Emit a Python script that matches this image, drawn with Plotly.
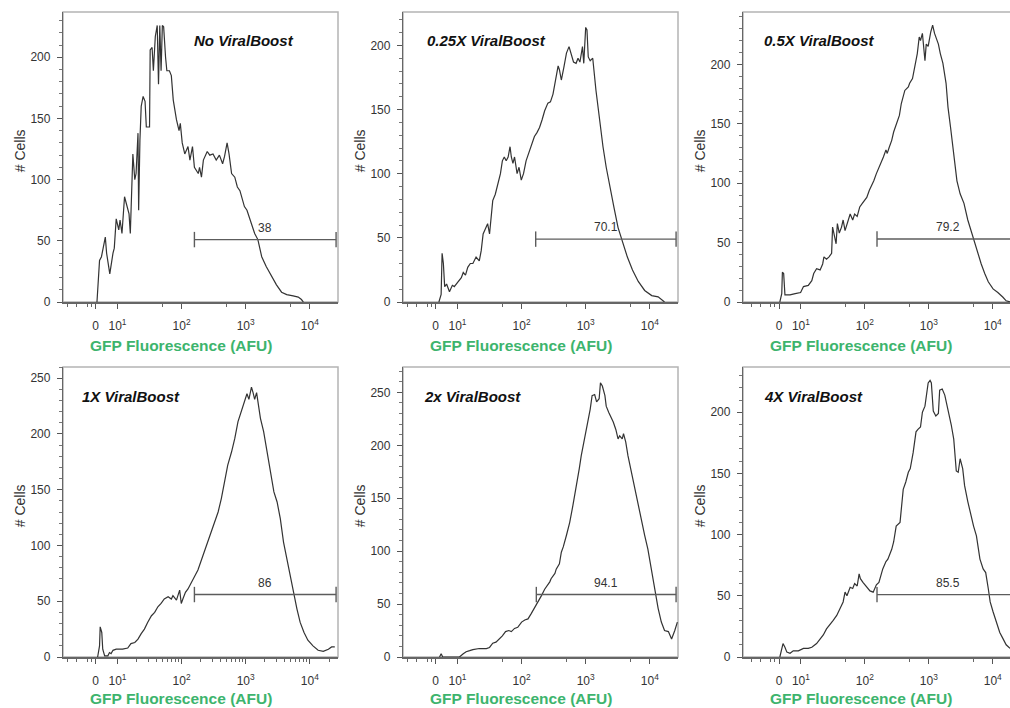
import math
import plotly.graph_objects as go

W, H = 1010, 708
FONT = "Arial, 'Liberation Sans', sans-serif"

panel_titles = ["No ViralBoost", "0.25X ViralBoost", "0.5X ViralBoost",
                "1X ViralBoost", "2x ViralBoost", "4X ViralBoost"]

# x values are log10(GFP fluorescence, AFU); y values are # cells
no_vb_x = [0.68,0.72,0.75,0.81,0.83,0.88,0.93,0.95,0.98,1.02,1.04,1.07,1.11,1.15,1.18,1.20,1.23,1.24,1.27,1.29,
           1.32,1.33,1.35,1.37,1.40,1.43,1.45,1.50,1.51,1.54,1.56,1.59,1.62,1.64,1.66,1.68,1.70,1.72,1.75,1.77,
           1.81,1.84,1.87,1.92,1.96,1.98,2.01,2.05,2.10,2.13,2.17,2.20,2.26,2.28,2.31,2.34,2.40,2.44,2.49,2.54,
           2.59,2.64,2.67,2.71,2.74,2.78,2.83,2.87,2.91,2.95,2.98,3.02,3.09,3.14,3.19,3.25,3.32,3.40,3.48,3.56,
           3.64,3.74,3.82,3.87,3.90]
no_vb_y = [0,34,37,53,40,23,40,44,68,59,67,56,86,78,72,56,98,121,100,105,
           138,75,132,160,168,164,143,143,206,208,189,217,226,178,226,189,226,225,200,189,
           189,185,165,149,140,146,130,121,127,116,127,110,105,110,102,116,123,120,121,116,
           120,113,119,130,121,105,102,94,91,83,78,75,64,56,51,37,29,21,14,8,
           6,5,4,2,0]

vb025_x = [0.71,0.745,0.76,0.78,0.80,0.83,0.875,0.92,0.95,1.005,1.06,1.09,1.125,1.16,1.20,1.24,1.29,1.34,1.37,1.40,
           1.45,1.47,1.50,1.53,1.55,1.59,1.63,1.67,1.70,1.73,1.76,1.79,1.82,1.84,1.865,1.89,1.93,1.96,1.995,2.03,
           2.07,2.115,2.15,2.20,2.24,2.28,2.32,2.36,2.41,2.45,2.49,2.53,2.57,2.59,2.62,2.66,2.70,2.74,2.78,2.81,
           2.85,2.88,2.91,2.95,2.97,3.00,3.02,3.04,3.07,3.11,3.16,3.19,3.23,3.27,3.32,3.375,3.44,3.505,3.57,3.65,
           3.73,3.82,3.92,4.03,4.13,4.20,4.23]
vb025_y = [0,6,38,30,12,14,8,13,12,16,19,23,21,27,30,30,35,32,40,53,
           58,61,53,69,79,84,92,100,110,113,110,113,121,113,108,113,100,105,95,100,
           110,116,121,129,132,136,142,149,155,156,162,173,184,181,173,183,194,199,192,187,
           186,190,187,199,186,214,212,191,188,190,165,152,136,121,105,90,74,58,48,35,
           25,16,9,5,4,1,0]

vb05_x = [0.67,0.70,0.71,0.73,0.75,0.83,0.91,0.995,1.04,1.115,1.17,1.20,1.245,1.30,1.34,1.36,1.40,1.44,1.48,1.495,
          1.515,1.55,1.57,1.60,1.635,1.66,1.69,1.72,1.77,1.81,1.84,1.88,1.92,1.96,2.00,2.03,2.07,2.10,2.14,2.18,
          2.23,2.29,2.33,2.35,2.38,2.42,2.45,2.49,2.54,2.57,2.625,2.68,2.70,2.745,2.78,2.82,2.85,2.87,2.90,2.92,
          2.94,2.96,2.99,3.03,3.06,3.09,3.15,3.18,3.22,3.27,3.30,3.34,3.39,3.44,3.49,3.55,3.61,3.67,3.72,3.77,
          3.82,3.875,3.93,4.005,4.08,4.16,4.21,4.28]
vb05_y = [0,7,25,24,6,6,7,8,13,14,18,24,28,27,32,38,36,38,41,63,
          58,49,66,58,63,69,60,66,74,69,74,72,80,83,86,88,94,97,102,108,
          114,122,128,125,130,136,143,150,157,167,178,181,184,188,198,209,223,220,226,212,
          203,217,215,227,233,226,217,209,201,184,164,147,125,102,91,83,69,58,49,41,
          32,24,17,11,8,4,1,0]

vb1_x = [0.69,0.72,0.73,0.755,0.77,0.80,0.85,0.875,0.90,0.93,0.98,1.08,1.16,1.21,1.27,1.32,1.37,1.42,1.47,1.53,
         1.58,1.63,1.68,1.73,1.79,1.84,1.865,1.92,1.97,1.995,2.02,2.06,2.10,2.15,2.20,2.255,2.31,2.36,2.41,2.46,
         2.52,2.57,2.62,2.67,2.72,2.78,2.83,2.88,2.93,2.98,3.02,3.05,3.09,3.115,3.14,3.17,3.19,3.23,3.28,3.33,
         3.385,3.44,3.49,3.54,3.59,3.65,3.70,3.75,3.80,3.85,3.91,3.97,4.05,4.13,4.21,4.29,4.34,4.39]
vb1_y = [0,10,27,22,7,1,1,4,3,6,7,7,8,12,13,16,21,25,31,37,
         40,45,48,52,54,52,55,51,60,48,52,58,61,67,72,78,87,94,103,112,
         121,130,142,157,172,184,196,211,220,231,236,231,242,237,231,237,228,214,202,184,
         166,148,139,124,103,85,70,55,43,31,22,15,10,6,5,7,9,9]

vb2_x = [0.72,0.745,0.77,1.03,1.09,1.135,1.19,1.24,1.34,1.45,1.50,1.55,1.60,1.65,1.70,1.75,1.80,1.84,1.89,1.94,
         2.00,2.05,2.10,2.15,2.20,2.255,2.31,2.36,2.41,2.44,2.46,2.52,2.54,2.57,2.59,2.62,2.65,2.70,2.75,2.80,
         2.85,2.90,2.93,2.98,3.04,3.07,3.10,3.14,3.17,3.21,3.23,3.26,3.30,3.32,3.36,3.40,3.43,3.47,3.505,3.53,
         3.57,3.59,3.625,3.66,3.71,3.77,3.82,3.87,3.92,3.97,4.03,4.08,4.13,4.18,4.23,4.29,4.34,4.39,4.43]
vb2_y = [0,3,0,0,3,5,6,7,8,8,9,13,14,17,20,24,25,24,27,28,
         33,35,36,41,46,52,58,64,68,71,74,79,83,86,88,99,104,115,127,143,
         159,178,190,206,222,234,247,248,241,244,259,256,247,237,231,226,222,215,206,209,
         206,211,203,190,175,159,143,127,115,102,80,64,46,33,25,24,17,25,33]

vb4_x = [0.67,0.70,0.72,0.75,0.78,0.83,0.88,0.96,1.04,1.115,1.17,1.245,1.30,1.35,1.40,1.45,1.505,1.56,1.61,1.66,
         1.69,1.72,1.77,1.81,1.84,1.88,1.91,1.93,1.97,2.03,2.08,2.13,2.18,2.22,2.28,2.33,2.36,2.42,2.45,2.49,
         2.55,2.60,2.64,2.68,2.71,2.755,2.80,2.83,2.87,2.90,2.94,2.99,3.02,3.04,3.07,3.11,3.15,3.17,3.21,3.25,
         3.29,3.32,3.35,3.39,3.43,3.46,3.49,3.53,3.56,3.61,3.67,3.70,3.745,3.80,3.85,3.89,3.93,3.96,4.005,4.06,
         4.11,4.16,4.21,4.27]
vb4_y = [0,7,11,8,4,3,5,5,7,7,8,11,15,18,23,26,30,34,39,45,
         53,50,57,56,60,58,68,64,61,57,54,53,59,61,72,78,80,88,94,107,
         110,137,143,151,154,167,184,186,188,200,205,224,226,224,201,197,199,218,219,214,
         205,199,190,178,152,151,162,154,140,127,112,107,99,80,72,69,56,45,37,29,
         20,15,10,7]

# gates (log10 AFU start / end, # cells level, % positive)
gate_start = [2.20, 2.22, 2.19, 2.20, 2.23, 2.19]
gate_end = [4.41, 4.41, 4.41, 4.41, 4.41, 4.41]
gate_level = [51, 49, 53, 56, 59, 51]
gate_pct = ["38", "70.1", "79.2", "86", "94.1", "85.5"]

x_tick_vals = [0.66, 1, 2, 3, 4]
x_tick_text = ["0", "10<sup>1</sup>", "10<sup>2</sup>", "10<sup>3</sup>", "10<sup>4</sup>"]
y_top = [237, 226, 244, 260, 274, 237]

series = [(no_vb_x, no_vb_y), (vb025_x, vb025_y), (vb05_x, vb05_y),
          (vb1_x, vb1_y), (vb2_x, vb2_y), (vb4_x, vb4_y)]

# ---- layout geometry (pixels) ----
col_px = [(63, 338), (403, 678), (743, 1010)]
row_px = [(12, 302), (367, 657)]
x_ranges = [[0.15, 4.44], [0.15, 4.44], [0.094, 4.27]]
title_x = [0.47, 0.08, 0.07, 0.06, 0.07, 0.07]

fig = go.Figure()
layout = dict(template="none", width=W, height=H, margin=dict(l=0, r=0, t=0, b=0, pad=0),
              paper_bgcolor="white", plot_bgcolor="white", showlegend=False,
              font=dict(family=FONT, color="#333"))
annotations = []
shapes = []

minor_base = [0.22, 0.36, 0.53, 0.59, math.log10(50), math.log10(500), math.log10(5000)]
minor_dense = [0.22, 0.36, 0.53, 0.59] + [n + math.log10(k) for n in (1, 2, 3) for k in range(2, 10)] + \
              [4 + math.log10(2)]
GREEN = "#3db46d"

for i in range(6):
    r, c = divmod(i, 3)
    sfx = "" if i == 0 else str(i + 1)
    xa, ya = "x" + sfx, "y" + sfx
    x0, x1 = col_px[c]
    top, bot = row_px[r]
    layout["xaxis" + sfx] = dict(
        domain=[x0 / W, x1 / W], anchor=ya, range=x_ranges[c], automargin=False,
        tickmode="array", tickvals=x_tick_vals, ticktext=x_tick_text,
        ticks="outside", ticklen=5, tickwidth=1, tickcolor="#555",
        tickfont=dict(size=12, color="#333", family=FONT), ticklabelstandoff=7,
        showline=True, linecolor="#666", linewidth=1.5, showgrid=False, zeroline=False,
        minor=dict(tickmode="array", tickvals=minor_dense if i == 3 else minor_base,
                   ticks="outside", ticklen=3, tickcolor="#666", tickwidth=1),
    )
    layout["yaxis" + sfx] = dict(
        domain=[1 - bot / H, 1 - top / H], anchor=xa, range=[0, y_top[i]], automargin=False,
        tickmode="linear", tick0=0, dtick=50,
        ticks="outside", ticklen=5, tickwidth=1, tickcolor="#555",
        tickfont=dict(size=12, color="#333", family=FONT), ticklabelstandoff=4,
        showline=True, linecolor="#666", linewidth=1.3, showgrid=False, zeroline=False,
        minor=dict(dtick=10, tick0=0, ticks="outside", ticklen=3, tickcolor="#777", tickwidth=1),
    )
    # light frame
    shapes.append(dict(type="rect", xref=f"{xa} domain", yref=f"{ya} domain",
                       x0=0, x1=1.06 if c == 2 else 1, y0=0, y1=1,
                       line=dict(color="#b4b4b4", width=1.5), layer="below"))

    xs, ys = series[i]
    fig.add_trace(go.Scatter(x=xs, y=ys, mode="lines", xaxis=xa, yaxis=ya,
                             line=dict(color="#333", width=1.2), hoverinfo="skip"))
    fig.add_trace(go.Scatter(x=[gate_start[i], gate_end[i]], y=[gate_level[i], gate_level[i]],
                             mode="lines+markers", xaxis=xa, yaxis=ya,
                             line=dict(color="#5c5c5c", width=1.4),
                             marker=dict(symbol="line-ns-open", size=11,
                                         line=dict(color="#5c5c5c", width=1.4)),
                             hoverinfo="skip"))
    annotations.append(dict(text=gate_pct[i], xref=xa, yref=ya,
                            x=(gate_start[i] + gate_end[i]) / 2, y=gate_level[i],
                            yshift=12, showarrow=False, xanchor="center", yanchor="middle",
                            font=dict(size=12, color="#333", family=FONT)))
    annotations.append(dict(text=f"<b><i>{panel_titles[i]}</i></b>",
                            xref=f"{xa} domain", yref=f"{ya} domain",
                            x=title_x[i], y=0.9, xanchor="left", yanchor="middle",
                            showarrow=False, font=dict(size=15, color="#111", family=FONT)))
    annotations.append(dict(text="# Cells", xref=f"{xa} domain", yref=f"{ya} domain",
                            x=0, y=0.52, xshift=-43, textangle=-90, showarrow=False,
                            xanchor="center", yanchor="middle",
                            font=dict(size=14, color="#333", family=FONT)))
    annotations.append(dict(text="<b>GFP Fluorescence (AFU)</b>",
                            xref=f"{xa} domain", yref=f"{ya} domain",
                            x=0, y=0, xshift=118, yshift=-43 if r == 0 else -41,
                            showarrow=False, xanchor="center", yanchor="middle",
                            font=dict(size=15.5, color=GREEN, family=FONT)))

layout["annotations"] = annotations
layout["shapes"] = shapes
fig.update_layout(**layout)
fig.write_html("out.html", config={"displayModeBar": False},
               post_script="document.body.style.margin='0px';document.body.style.overflow='hidden';")
